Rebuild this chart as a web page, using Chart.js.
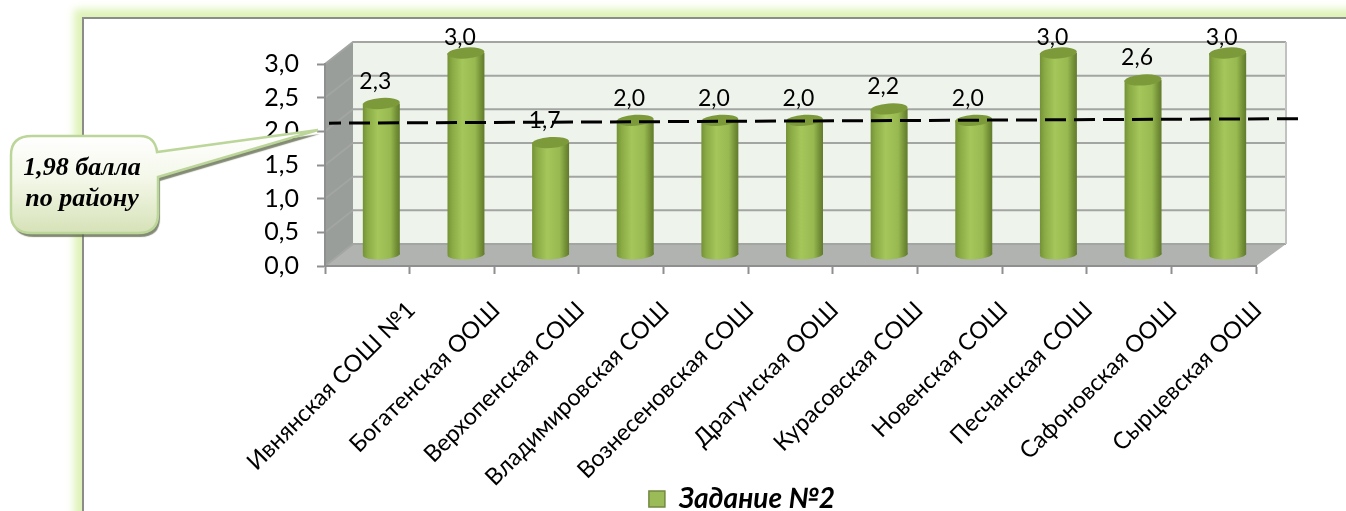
<!DOCTYPE html>
<html>
<head>
<meta charset="utf-8">
<script src="https://cdn.jsdelivr.net/npm/chart.js@4/dist/chart.umd.min.js"></script>
<style>
html, body { margin: 0; padding: 0; background: #fff; overflow: hidden; }
#wrap { position: relative; width: 1346px; height: 511px; overflow: hidden; }
#frame { position: absolute; left: 82px; top: 17px; width: 1400px; height: 700px; box-sizing: border-box;
    border: 2px solid #8c8c8c; background: #fff; box-shadow: 0 0 8px 8px #dff3b8; }
#chart { position: absolute; left: 0; top: 0; }
</style>
</head>
<body>
<div id="wrap">
    <div id="frame"></div>
    <canvas id="chart" width="1346" height="511"></canvas>
</div>
<script>
const schools = ['Ивнянская СОШ №1', 'Богатенская ООШ', 'Верхопенская СОШ', 'Владимировская СОШ',
    'Вознесеновская СОШ', 'Драгунская ООШ', 'Курасовская СОШ', 'Новенская СОШ', 'Песчанская СОШ',
    'Сафоновская ООШ', 'Сырцевская ООШ'];
const scores = [2.25, 3.0, 1.67, 2.0, 2.0, 2.0, 2.17, 2.0, 3.0, 2.6, 3.0];
const districtAverage = 1.98;
const seriesName = 'Задание №2';
const calloutLines = ['1,98 балла', 'по району'];

const uiFont = 'Lato, "Noto Sans", sans-serif';

function comma(value) {
    return value.toFixed(1).replace('.', ',');
}

function barGradient(ctx) {
    const chart = ctx.chart;
    if (ctx.type !== 'data' || !chart.scales.x) {
        return '#9bbb59';
    }
    const x = chart.scales.x.getPixelForValue(ctx.dataIndex);
    const g = chart.ctx.createLinearGradient(x - 18, 0, x + 18, 0);
    g.addColorStop(0, '#769437');
    g.addColorStop(0.12, '#8aaa45');
    g.addColorStop(0.4, '#a4c65a');
    g.addColorStop(0.75, '#97b950');
    g.addColorStop(0.92, '#738f36');
    g.addColorStop(1, '#637d2e');
    return g;
}

function polygon(ctx, points, fill) {
    ctx.beginPath();
    points.forEach(function (p, i) {
        if (i === 0) ctx.moveTo(p[0], p[1]); else ctx.lineTo(p[0], p[1]);
    });
    ctx.closePath();
    ctx.fillStyle = fill;
    ctx.fill();
}

// 3d box behind the bars
const wallsPlugin = {
    id: 'walls',
    beforeDraw: function (chart) {
        const ctx = chart.ctx;
        const a = chart.chartArea;
        const dx = 28, dy = -22;
        const backRight = a.right + 30;
        ctx.save();
        polygon(ctx, [[a.left + dx, a.top + dy], [backRight, a.top + dy], [backRight, a.bottom + dy], [a.left + dx, a.bottom + dy]], '#eef3ec');
        polygon(ctx, [[a.left, a.top], [a.left + dx, a.top + dy], [a.left + dx, a.bottom + dy], [a.left, a.bottom]], '#999e9a');
        polygon(ctx, [[a.left, a.bottom], [a.left + dx, a.bottom + dy], [backRight, a.bottom + dy], [a.right, a.bottom]], '#b1b3b1');
        ctx.lineWidth = 2;
        ctx.strokeStyle = '#a3a5a3';
        chart.scales.y.ticks.forEach(function (tick) {
            const y = chart.scales.y.getPixelForValue(tick.value);
            ctx.beginPath();
            ctx.moveTo(a.left, y);
            ctx.lineTo(a.left + dx, y + dy);
            ctx.lineTo(backRight, y + dy);
            ctx.stroke();
        });
        ctx.beginPath();
        ctx.strokeStyle = '#c0c2c0';
        ctx.moveTo(backRight, a.top + dy);
        ctx.lineTo(backRight, a.bottom + dy);
        ctx.stroke();
        ctx.restore();
    }
};

// bars sit in the middle of the box, so shift them and add the round caps
const cylinderPlugin = {
    id: 'cylinder',
    beforeDatasetDraw: function (chart, args) {
        const ctx = chart.ctx;
        ctx.save();
        ctx.translate(14, -11);
        args.meta.data.forEach(function (bar) {
            ctx.beginPath();
            ctx.ellipse(bar.x, bar.base, bar.width / 2, 5, -0.06, 0, Math.PI * 2);
            ctx.fillStyle = bar.options.backgroundColor;
            ctx.fill();
        });
    },
    afterDatasetDraw: function (chart, args) {
        const ctx = chart.ctx;
        args.meta.data.forEach(function (bar) {
            ctx.beginPath();
            ctx.ellipse(bar.x, bar.y, bar.width / 2, 5.5, -0.07, 0, Math.PI * 2);
            ctx.fillStyle = '#7d9a3b';
            ctx.fill();
        });
        ctx.restore();

        ctx.save();
        ctx.font = '23px ' + uiFont;
        ctx.fillStyle = '#000';
        ctx.textAlign = 'center';
        ctx.textBaseline = 'middle';
        args.meta.data.forEach(function (bar, i) {
            ctx.fillText(comma(scores[i]), bar.x + 8, Math.max(bar.y - 33, 38));
        });
        ctx.restore();
    }
};

// hand drawn dashed line and the callout on top of everything
const overlayPlugin = {
    id: 'overlay',
    afterDraw: function (chart) {
        const ctx = chart.ctx;
        const a = chart.chartArea;
        const y = chart.scales.y.getPixelForValue(districtAverage) - 11;
        ctx.save();
        ctx.beginPath();
        ctx.setLineDash([21, 8]);
        ctx.lineDashOffset = 9;
        ctx.lineWidth = 3;
        ctx.strokeStyle = '#000';
        ctx.moveTo(a.left + 4, y + 1.5);
        ctx.lineTo(a.right + 42, y - 3);
        ctx.stroke();
        ctx.setLineDash([]);

        const path = new Path2D();
        path.moveTo(32, 136);
        path.lineTo(140, 136);
        path.quadraticCurveTo(155, 136, 157, 152);
        path.lineTo(318, 130);
        path.lineTo(158, 177);
        path.lineTo(158, 214);
        path.quadraticCurveTo(158, 233, 138, 233);
        path.lineTo(32, 233);
        path.quadraticCurveTo(11, 233, 11, 214);
        path.lineTo(11, 155);
        path.quadraticCurveTo(11, 136, 32, 136);
        path.closePath();

        const fill = ctx.createLinearGradient(0, 136, 0, 233);
        fill.addColorStop(0, '#ffffff');
        fill.addColorStop(0.45, '#f3f7e8');
        fill.addColorStop(1, '#d6e2b8');
        ctx.shadowColor = 'rgba(90, 100, 70, 0.75)';
        ctx.shadowOffsetX = 2;
        ctx.shadowOffsetY = 4;
        ctx.shadowBlur = 1;
        ctx.fillStyle = fill;
        ctx.fill(path);
        ctx.shadowColor = 'transparent';
        ctx.lineWidth = 2.5;
        ctx.strokeStyle = '#bcd69a';
        ctx.stroke(path);

        ctx.font = 'italic bold 26px "Liberation Serif", serif';
        ctx.fillStyle = '#000';
        ctx.textAlign = 'center';
        ctx.textBaseline = 'middle';
        ctx.fillText(calloutLines[0], 82, 168);
        ctx.fillText(calloutLines[1], 82, 199);
        ctx.restore();
    }
};

// legend is centred under the plot, not under the canvas.
// x scale box is also stretched here so the long labels are not clipped by it
const layoutFixPlugin = {
    id: 'layoutFix',
    afterLayout: function (chart) {
        chart.legend.left += 114;
        chart.legend.right += 114;
        chart.legend.top += 12;
        chart.legend.bottom += 12;
        chart.scales.x.bottom = chart.height;
    }
};

new Chart(document.getElementById('chart'), {
    type: 'bar',
    data: {
        labels: schools,
        datasets: [{
            label: seriesName,
            data: scores,
            backgroundColor: barGradient,
            borderWidth: 0,
            categoryPercentage: 1,
            barPercentage: 0.437,
            clip: false
        }]
    },
    options: {
        responsive: false,
        animation: false,
        layout: {
            padding: { left: 0, right: 90, top: 64, bottom: 0 }
        },
        plugins: {
            tooltip: { enabled: false },
            legend: {
                position: 'bottom',
                labels: {
                    boxWidth: 16,
                    boxHeight: 16,
                    padding: 8,
                    color: '#000',
                    font: { family: uiFont, size: 28, style: 'italic', weight: 'bold' },
                    generateLabels: function () {
                        return [{ text: seriesName, fillStyle: '#9bbb59', strokeStyle: '#71893f', lineWidth: 1.5 }];
                    }
                }
            }
        },
        scales: {
            x: {
                afterFit: function (scale) { scale.height = 199; },
                border: { color: '#8f8f8f', width: 2 },
                grid: { drawOnChartArea: false, tickLength: 8, tickColor: '#8f8f8f', tickWidth: 2 },
                ticks: {
                    autoSkip: false,
                    maxRotation: 45,
                    minRotation: 45,
                    labelOffset: 44,
                    padding: 22,
                    color: '#000',
                    font: { family: uiFont, size: 23.5 }
                }
            },
            y: {
                min: 0,
                max: 3,
                afterFit: function (scale) { scale.width = 325; },
                border: { color: '#8f8f8f', width: 2 },
                grid: { drawOnChartArea: false, tickLength: 8, tickColor: '#8f8f8f', tickWidth: 2 },
                ticks: {
                    stepSize: 0.5,
                    padding: 18,
                    color: '#000',
                    font: { family: uiFont, size: 25 },
                    callback: function (value) { return comma(value); }
                }
            }
        }
    },
    plugins: [wallsPlugin, cylinderPlugin, overlayPlugin, layoutFixPlugin]
});
</script>
</body>
</html>
